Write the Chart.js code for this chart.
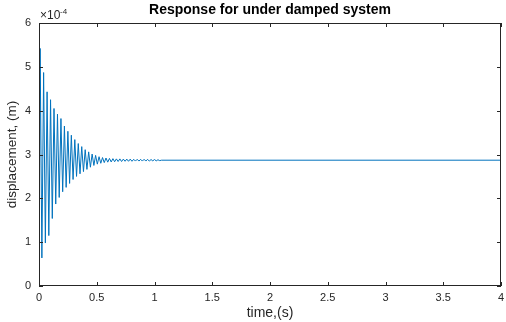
<!DOCTYPE html>
<html>
<head>
<meta charset="utf-8">
<script src="https://cdn.jsdelivr.net/npm/chart.js@4/dist/chart.umd.min.js"></script>
<style>
  html, body { margin: 0; background: #fff; }
  #wrap { width: 506px; height: 322px; }
</style>
</head>
<body>
<div id="wrap"><canvas id="chart"></canvas></div>
<script>
// step response (displacement in units of 1e-4 m)
const time = [0, 0.010, 0.025, 0.040, 0.055, 0.070, 0.085, 0.100, 0.115, 0.130, 0.145,
  0.160, 0.175, 0.190, 0.205, 0.220, 0.235, 0.250, 0.265, 0.280, 0.295,
  0.310, 0.325, 0.340, 0.355, 0.370, 0.385, 0.400, 0.415, 0.430, 0.445,
  0.460, 0.475, 0.490, 0.505, 0.520, 0.535, 0.550, 0.565, 0.580, 0.595,
  0.610, 0.625, 0.640, 0.655, 0.670, 0.685, 0.700, 0.715, 0.730, 0.745,
  0.760, 0.775, 0.790, 0.805, 0.820, 0.835, 0.850, 0.865, 0.880, 0.895,
  0.910, 0.925, 0.940, 0.955, 0.970, 0.985, 1.000, 1.015, 1.030, 1.045,
  1.060, 4.000];
const dispE4 = [0, 5.42, 0.64, 4.87, 0.98, 4.43, 1.15, 4.25, 1.54, 4.05, 1.87,
  3.92, 2.02, 3.82, 2.15, 3.65, 2.25, 3.53, 2.34, 3.44, 2.43,
  3.34, 2.50, 3.25, 2.56, 3.18, 2.61, 3.11, 2.66, 3.06, 2.71,
  3.01, 2.75, 2.98, 2.78, 2.95, 2.80, 2.93, 2.815, 2.92, 2.825,
  2.91, 2.83, 2.905, 2.835, 2.90, 2.84, 2.90, 2.84, 2.895, 2.845,
  2.895, 2.845, 2.895, 2.845, 2.89, 2.85, 2.89, 2.85, 2.89, 2.85,
  2.89, 2.85, 2.89, 2.85, 2.885, 2.855, 2.885, 2.855, 2.88, 2.86,
  2.87, 2.87];
const xTicks = [0, 0.5, 1, 1.5, 2, 2.5, 3, 3.5, 4];
const yTicks = [0, 1, 2, 3, 4, 5, 6];

const TXT = '#262626';
const FONT = '"Liberation Sans", Arial, sans-serif';

// matlab-ish box, inward ticks, title and exponent label
const matlabFrame = {
  id: 'matlabFrame',
  afterDraw(chart) {
    const { ctx, chartArea: a, scales } = chart;
    ctx.save();
    ctx.strokeStyle = TXT;
    ctx.lineWidth = 1;
    ctx.strokeRect(Math.round(a.left) + 0.5, Math.round(a.top) + 0.5,
      Math.round(a.right - a.left) - 1, Math.round(a.bottom - a.top) - 1);
    ctx.beginPath();
    xTicks.forEach(v => {
      const x = Math.round(scales.x.getPixelForValue(v)) + 0.5;
      ctx.moveTo(x, a.bottom); ctx.lineTo(x, a.bottom - 4);
      ctx.moveTo(x, a.top); ctx.lineTo(x, a.top + 4);
    });
    yTicks.forEach(v => {
      const y = Math.round(scales.y.getPixelForValue(v)) + 0.5;
      ctx.moveTo(a.left, y); ctx.lineTo(a.left + 4, y);
      ctx.moveTo(a.right, y); ctx.lineTo(a.right - 4, y);
    });
    ctx.stroke();

    ctx.fillStyle = '#000';
    ctx.font = 'bold 14px ' + FONT;
    ctx.textAlign = 'center';
    ctx.textBaseline = 'middle';
    ctx.fillText('Response for under damped system', (a.left + a.right) / 2, 10);

    ctx.fillStyle = TXT;
    ctx.textAlign = 'left';
    ctx.font = '12px ' + FONT;
    ctx.fillText('\u00d710', a.left + 1, 16);
    ctx.font = '8px ' + FONT;
    ctx.fillText('-4', a.left + 21, 12);
    ctx.restore();
  }
};

new Chart(document.getElementById('chart'), {
  type: 'line',
  data: {
    datasets: [{
      data: time.map((t, i) => ({ x: t, y: dispE4[i] })),
      borderColor: '#0072BD',
      borderWidth: 1,
      pointRadius: 0,
      tension: 0,
      fill: false
    }]
  },
  options: {
    responsive: true,
    maintainAspectRatio: false,
    animation: false,
    events: [],
    layout: { padding: { top: 23, right: 5, left: 0, bottom: 0 } },
    plugins: { legend: { display: false }, tooltip: { enabled: false } },
    scales: {
      x: {
        type: 'linear', min: 0, max: 4,
        grid: { display: false, drawTicks: false },
        border: { display: false },
        afterBuildTicks: s => { s.ticks = xTicks.map(v => ({ value: v })); },
        afterFit: s => { s.height = 36; s.paddingRight = 0; s.paddingLeft = 0; },
        ticks: { color: TXT, font: { family: FONT, size: 11 }, padding: 5, maxRotation: 0,
          callback: v => String(v) },
        title: { display: true, text: 'time,(s)', color: TXT, font: { family: FONT, size: 14 }, padding: { top: 2, bottom: 0 } }
      },
      y: {
        min: 0, max: 6,
        grid: { display: false, drawTicks: false },
        border: { display: false },
        afterBuildTicks: s => { s.ticks = yTicks.map(v => ({ value: v })); },
        afterFit: s => { s.width = 39; s.paddingTop = 0; s.paddingBottom = 0; },
        ticks: { color: TXT, font: { family: FONT, size: 11 }, padding: 8 },
        title: { display: true, text: 'displacement, (m)', color: TXT, font: { family: FONT, size: 13.5 }, padding: { top: 4, bottom: 0 } }
      }
    }
  },
  plugins: [matlabFrame]
});
</script>
</body>
</html>
